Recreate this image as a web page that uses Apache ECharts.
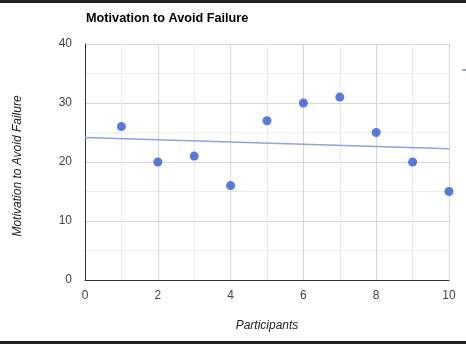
<!DOCTYPE html>
<html>
<head>
<meta charset="utf-8">
<script src="https://cdn.jsdelivr.net/npm/echarts@6/dist/echarts.min.js"></script>
<style>
  html, body { margin: 0; padding: 0; background: #fff; }
  #wrap { position: relative; width: 466px; height: 344px; overflow: hidden; }
  #chart { width: 466px; height: 344px; }
  .bar { position: absolute; left: 0; width: 466px; background: #222; }
  #topBar { top: 0; height: 3px; }
  #bottomBar { top: 341px; height: 3px; }
</style>
</head>
<body>
<div id="wrap">
  <div id="chart"></div>
  <div class="bar" id="topBar"></div>
  <div class="bar" id="bottomBar"></div>
</div>
<script>
// Participant numbers and their scores
const participants = [1, 2, 3, 4, 5, 6, 7, 8, 9, 10];
const scores = [26, 20, 21, 16, 27, 30, 31, 25, 20, 15];

const chartTitle = 'Motivation to Avoid Failure';
const xAxisTitle = 'Participants';
const yAxisTitle = 'Motivation to Avoid Failure';
const trendName = 'Linear (Motivation to Avoid Failure)';

// Least-squares linear trend across the x-axis range
function linearTrend(xs, ys, x0, x1) {
  const n = xs.length;
  const mx = xs.reduce((a, b) => a + b, 0) / n;
  const my = ys.reduce((a, b) => a + b, 0) / n;
  let sxy = 0, sxx = 0;
  for (let i = 0; i < n; i++) {
    sxy += (xs[i] - mx) * (ys[i] - my);
    sxx += (xs[i] - mx) * (xs[i] - mx);
  }
  const slope = sxy / sxx;
  const icpt = my - slope * mx;
  return [[x0, icpt + slope * x0], [x1, icpt + slope * x1]];
}

const points = participants.map((p, i) => [p, scores[i]]);
const trend = linearTrend(participants, scores, 0, 10);

const trendColor = '#8fa3ea';
const font = '"Liberation Sans", Arial, sans-serif';
const chart = echarts.init(document.getElementById('chart'), null, { renderer: 'canvas' });

chart.setOption({
  animation: false,
  textStyle: { fontFamily: font },
  title: {
    text: chartTitle,
    left: 86,
    top: 12,
    padding: 0,
    textStyle: { fontFamily: font, fontSize: 12.7, fontWeight: 'bold', color: '#000' }
  },
  // legend sits at the right edge; only its swatch is visible
  legend: {
    data: [{ name: trendName, icon: 'rect', itemStyle: { color: trendColor } }],
    left: 462,
    top: 69,
    padding: 0,
    itemWidth: 8,
    itemHeight: 2,
    formatter: () => '',
    textStyle: { fontSize: 12, color: '#222' }
  },
  grid: { left: 85, right: 17, top: 44, bottom: 64, containLabel: false },
  xAxis: {
    type: 'value',
    min: 0,
    max: 10,
    interval: 2,
    name: xAxisTitle,
    nameLocation: 'middle',
    nameGap: 40,
    nameTextStyle: { fontFamily: font, fontSize: 12, fontStyle: 'italic', color: '#222' },
    axisLine: { show: true, onZero: false, lineStyle: { color: '#333', width: 1 } },
    axisTick: { show: false },
    axisLabel: { margin: 10, fontSize: 12, color: '#444', fontFamily: font },
    splitLine: { show: true, lineStyle: { color: '#d6d6d6', width: 1 } },
    minorTick: { show: false, splitNumber: 2 },
    minorSplitLine: { show: true, lineStyle: { color: '#ececec', width: 1 } }
  },
  yAxis: {
    type: 'value',
    min: 0,
    max: 40,
    interval: 10,
    name: yAxisTitle,
    nameLocation: 'middle',
    nameGap: 61,
    nameTextStyle: { fontFamily: font, fontSize: 12, fontStyle: 'italic', color: '#222', padding: [0, 0, 0, -8] },
    axisLine: { show: true, lineStyle: { color: '#333', width: 1 } },
    axisTick: { show: false },
    axisLabel: { margin: 13, fontSize: 12, color: '#444', fontFamily: font },
    splitLine: { show: true, lineStyle: { color: '#d6d6d6', width: 1 } },
    minorTick: { show: false, splitNumber: 2 },
    minorSplitLine: { show: true, lineStyle: { color: '#ececec', width: 1 } }
  },
  series: [
    {
      name: trendName,
      type: 'line',
      data: trend,
      showSymbol: false,
      symbol: 'none',
      silent: true,
      itemStyle: { color: trendColor },
      lineStyle: { color: trendColor, width: 1.5 },
      z: 2
    },
    {
      name: yAxisTitle,
      type: 'scatter',
      data: points,
      symbolSize: 9,
      itemStyle: { color: '#3059d6' },
      clip: false,
      z: 3
    }
  ]
});
</script>
</body>
</html>
